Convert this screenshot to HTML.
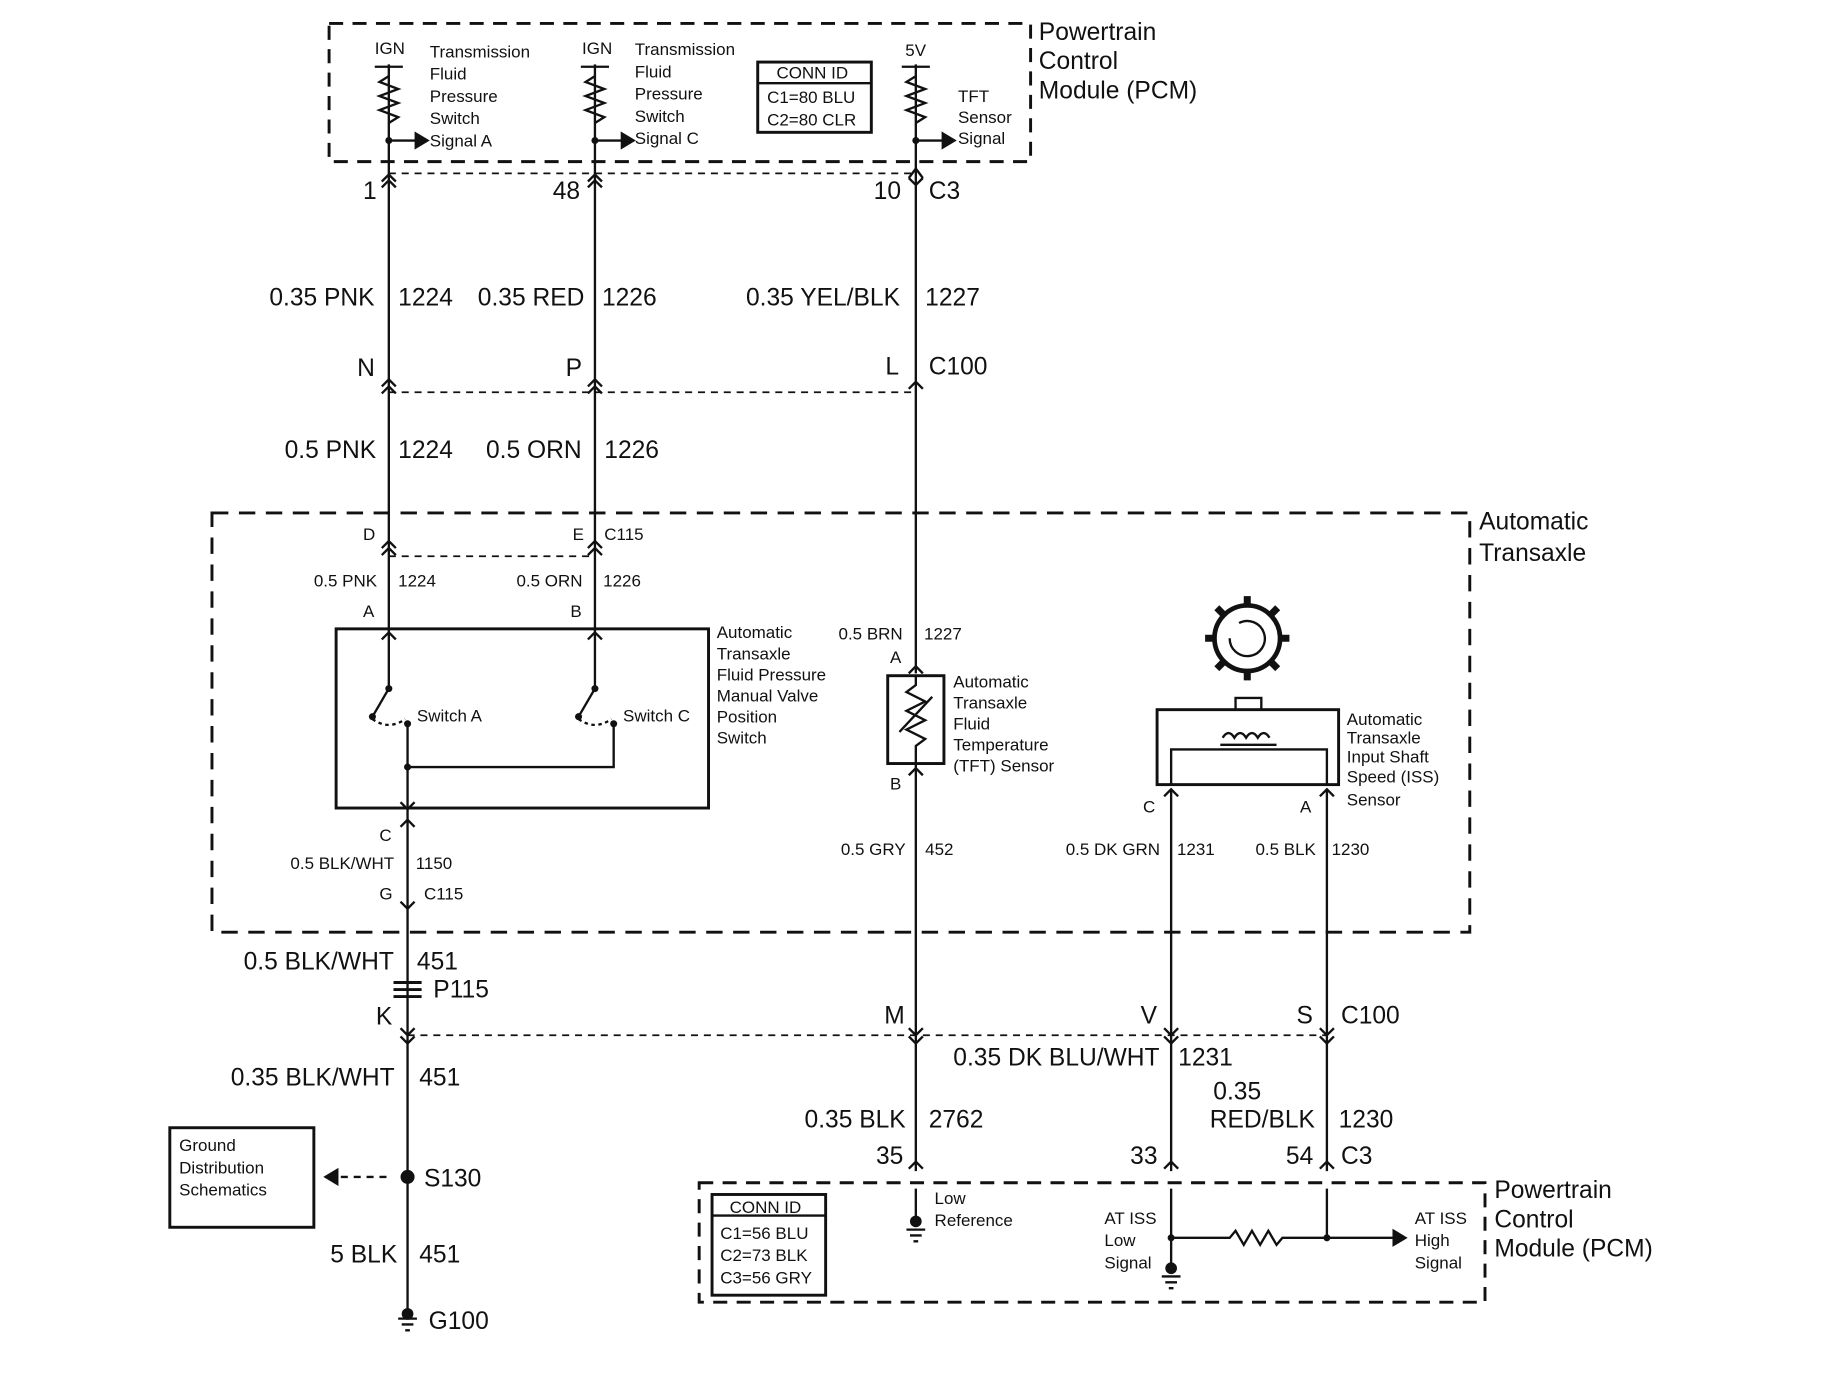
<!DOCTYPE html>
<html><head><meta charset="utf-8"><style>
html,body{margin:0;padding:0;background:#fff}
svg{display:block}
text{font-family:"Liberation Sans",Arial,sans-serif;fill:#111}
.L{font-size:21px}
.S{font-size:14.5px}
</style></head><body>
<svg width="1834" height="1376" viewBox="0 0 1566 1175" preserveAspectRatio="none" xmlns="http://www.w3.org/2000/svg">
<g stroke="#111" fill="none" stroke-width="2">
<rect x="281" y="20" width="599" height="118" stroke-dasharray="12,8" stroke-width="2.5"/>
<rect x="181" y="438" width="1074" height="358" stroke-dasharray="14,9" stroke-width="2.5"/>
<rect x="597" y="1010" width="671" height="102" stroke-dasharray="12,8" stroke-width="2.5"/>
<path d="M332 148H782M332 335H782M332 475H508M348 884H1133" stroke-dasharray="6,5" stroke-width="1.5"/>
<path d="M332 55V537M508 55V537M782 55V575M782 652V1000M348 690V1120M1000 675V1000M1133 675V1000"/>
<path d="M332 65l-8 5 16 6-16 6 16 6-16 6 16 6-8 5"/>
<path d="M508 65l-8 5 16 6-16 6 16 6-16 6 16 6-8 5"/>
<path d="M782 65l-8 5 16 6-16 6 16 6-16 6 16 6-8 5"/>
<path d="M320 57h24M496 57h24M770 57h24"/>
<path d="M332 120h25M508 120h25M782 120h25"/>
<path d="M355 114l10 6-10 6z" fill="#111"/><path d="M531 114l10 6-10 6z" fill="#111"/><path d="M805 114l10 6-10 6z" fill="#111"/>
<rect x="647" y="53" width="97" height="60" stroke-width="2.5"/><path d="M647 71H744"/>
<path d="M326 155l6-6 6 6M326 160l6-6 6 6M502 155l6-6 6 6M502 160l6-6 6 6M776 152l6 6 6-6M776 152l6-8 6 8"/>
<path d="M326 330l6-6 6 6M326 336l6-6 6 6M502 330l6-6 6 6M502 336l6-6 6 6M776 332l6-6 6 6"/>
<path d="M326 468l6-6 6 6M326 474l6-6 6 6M502 468l6-6 6 6M502 474l6-6 6 6"/>
<path d="M326 546l6-6 6 6M502 546l6-6 6 6M776 575l6-6 6 6M776 662l6-6 6 6"/>
<path d="M342 685l6 6 6-6M342 706l6-6 6 6M342 770l6 6 6-6M994 680l6-6 6 6M1127 680l6-6 6 6"/>
<path d="M342 878l6 6 6-6M776 878l6 6 6-6M994 878l6 6 6-6M1127 878l6 6 6-6M342 885l6 6 6-6M776 885l6 6 6-6M994 885l6 6 6-6M1127 885l6 6 6-6"/>
<path d="M776 998l6-6 6 6M994 998l6-6 6 6M1127 998l6-6 6 6"/>
<rect x="287" y="537" width="318" height="153" stroke-width="2.5"/>
<path d="M332 537V588L318 612M508 537V588L494 612M348 620V655H524V620M348 655V690"/>
<path d="M318 614q14 10 28 0M494 614q14 10 28 0" stroke-dasharray="3,3"/>
<rect x="758" y="577" width="48" height="75" stroke-width="2.5"/>
<path d="M782 577v8l-8 6 16 8-16 8 16 8-16 8 16 8-8 6v15M768 625l28-30"/>
<rect x="988" y="606" width="155" height="64" stroke-width="2.5"/>
<path d="M1000 670V640H1133V670"/>
<rect x="1055" y="596" width="22" height="10"/>
<path d="M1044 630q5-8 10 0q5-8 10 0q5-8 10 0q5-8 10 0M1042 636h48"/>
<circle cx="1065" cy="545" r="28" stroke-width="4"/>
<g stroke-width="6">
<path d="M1065 517v-8M1065 573v8M1037 545h-8M1093 545h8M1045 525l-6-6M1085 525l6-6M1045 565l-6 6M1085 565l6 6"/>
</g>
<path d="M1050 545a15 15 0 1 0 8-13"/>
<path d="M336 839h24M336 845h24M336 851h24" stroke-width="2.5"/>
<path d="M280 1005h55" stroke-dasharray="6,5"/><path d="M288 999l-10 6 10 6z" fill="#111"/>
<rect x="145" y="963" width="123" height="85" stroke-width="2.5"/>
<path d="M340 1126h16M343 1131h10M346 1136h4"/>
<rect x="608" y="1020" width="97" height="86" stroke-width="2.5"/><path d="M608 1038H705"/>
<path d="M782 1015V1045M774 1050h16M777 1055h10M780 1060h4"/>
<path d="M1000 1015V1078M1133 1015V1057M1000 1057H1050l5-6 7 12 7-12 7 12 7-12 7 12 5-6H1133H1190M1000 1078V1085M992 1090h16M995 1095h10M998 1100h4"/>
<path d="M1190 1051l10 6-10 6z" fill="#111"/>
</g>
<g fill="#111">
<circle cx="348" cy="1005" r="6"/><circle cx="348" cy="1122" r="5"/><circle cx="782" cy="1043" r="5"/><circle cx="1000" cy="1083" r="5"/>
<circle cx="1000" cy="1057" r="3"/><circle cx="1133" cy="1057" r="3"/><circle cx="348" cy="655" r="3"/>
<circle cx="332" cy="120" r="3"/><circle cx="508" cy="120" r="3"/><circle cx="782" cy="120" r="3"/>
<circle cx="332" cy="588" r="3"/><circle cx="508" cy="588" r="3"/><circle cx="318" cy="612" r="3"/><circle cx="494" cy="612" r="3"/><circle cx="348" cy="618" r="3"/><circle cx="524" cy="618" r="3"/>
</g>
<g class="S">
<text x="320" y="46">IGN</text><text x="497" y="46">IGN</text><text x="773" y="48">5V</text>
<text x="367" y="49">Transmission</text><text x="367" y="68">Fluid</text><text x="367" y="87">Pressure</text><text x="367" y="106">Switch</text><text x="367" y="125">Signal A</text>
<text x="542" y="47">Transmission</text><text x="542" y="66">Fluid</text><text x="542" y="85">Pressure</text><text x="542" y="104">Switch</text><text x="542" y="123">Signal C</text>
<text x="663" y="67">CONN ID</text><text x="655" y="88">C1=80 BLU</text><text x="655" y="107">C2=80 CLR</text>
<text x="818" y="87">TFT</text><text x="818" y="105">Sensor</text><text x="818" y="123">Signal</text>
<text x="310" y="461">D</text><text x="489" y="461">E</text><text x="516" y="461">C115</text>
<text x="268" y="501">0.5 PNK</text><text x="340" y="501">1224</text><text x="441" y="501">0.5 ORN</text><text x="515" y="501">1226</text>
<text x="310" y="527">A</text><text x="487" y="527">B</text>
<text x="612" y="545">Automatic</text><text x="612" y="563">Transaxle</text><text x="612" y="581">Fluid Pressure</text><text x="612" y="599">Manual Valve</text><text x="612" y="617">Position</text><text x="612" y="635">Switch</text>
<text x="356" y="616">Switch A</text><text x="532" y="616">Switch C</text>
<text x="716" y="546">0.5 BRN</text><text x="789" y="546">1227</text><text x="760" y="566">A</text><text x="760" y="674">B</text>
<text x="814" y="587">Automatic</text><text x="814" y="605">Transaxle</text><text x="814" y="623">Fluid</text><text x="814" y="641">Temperature</text><text x="814" y="659">(TFT) Sensor</text>
<text x="1150" y="619">Automatic</text><text x="1150" y="635">Transaxle</text><text x="1150" y="651">Input Shaft</text><text x="1150" y="668">Speed (ISS)</text><text x="1150" y="688">Sensor</text>
<text x="976" y="694">C</text><text x="1110" y="694">A</text>
<text x="324" y="718">C</text><text x="248" y="742">0.5 BLK/WHT</text><text x="355" y="742">1150</text><text x="324" y="768">G</text><text x="362" y="768">C115</text>
<text x="718" y="730">0.5 GRY</text><text x="790" y="730">452</text>
<text x="910" y="730">0.5 DK GRN</text><text x="1005" y="730">1231</text><text x="1072" y="730">0.5 BLK</text><text x="1137" y="730">1230</text>
<text x="153" y="983">Ground</text><text x="153" y="1002">Distribution</text><text x="153" y="1021">Schematics</text>
<text x="623" y="1036">CONN ID</text><text x="615" y="1058">C1=56 BLU</text><text x="615" y="1077">C2=73 BLK</text><text x="615" y="1096">C3=56 GRY</text>
<text x="798" y="1028">Low</text><text x="798" y="1047">Reference</text>
<text x="943" y="1045">AT ISS</text><text x="943" y="1064">Low</text><text x="943" y="1083">Signal</text>
<text x="1208" y="1045">AT ISS</text><text x="1208" y="1064">High</text><text x="1208" y="1083">Signal</text>
</g>
<g class="L">
<text x="887" y="34">Powertrain</text><text x="887" y="59">Control</text><text x="887" y="84">Module (PCM)</text>
<text x="310" y="170">1</text><text x="472" y="170">48</text><text x="746" y="170">10</text><text x="793" y="170">C3</text>
<text x="230" y="261">0.35 PNK</text><text x="340" y="261">1224</text><text x="408" y="261">0.35 RED</text><text x="514" y="261">1226</text><text x="637" y="261">0.35 YEL/BLK</text><text x="790" y="261">1227</text>
<text x="305" y="321">N</text><text x="483" y="321">P</text><text x="756" y="320">L</text><text x="793" y="320">C100</text>
<text x="243" y="391">0.5 PNK</text><text x="340" y="391">1224</text><text x="415" y="391">0.5 ORN</text><text x="516" y="391">1226</text>
<text x="1263" y="452">Automatic</text><text x="1263" y="479">Transaxle</text>
<text x="208" y="828">0.5 BLK/WHT</text><text x="356" y="828">451</text><text x="370" y="852">P115</text>
<text x="321" y="875">K</text><text x="755" y="874">M</text><text x="974" y="874">V</text><text x="1107" y="874">S</text><text x="1145" y="874">C100</text>
<text x="197" y="927">0.35 BLK/WHT</text><text x="358" y="927">451</text>
<text x="814" y="910">0.35 DK BLU/WHT</text><text x="1006" y="910">1231</text>
<text x="1036" y="939">0.35</text><text x="1033" y="963">RED/BLK</text><text x="1143" y="963">1230</text>
<text x="687" y="963">0.35 BLK</text><text x="793" y="963">2762</text>
<text x="748" y="994">35</text><text x="965" y="994">33</text><text x="1098" y="994">54</text><text x="1145" y="994">C3</text>
<text x="362" y="1013">S130</text>
<text x="282" y="1078">5 BLK</text><text x="358" y="1078">451</text>
<text x="366" y="1135">G100</text>
<text x="1276" y="1023">Powertrain</text><text x="1276" y="1048">Control</text><text x="1276" y="1073">Module (PCM)</text>
</g>
</svg>
</body></html>
